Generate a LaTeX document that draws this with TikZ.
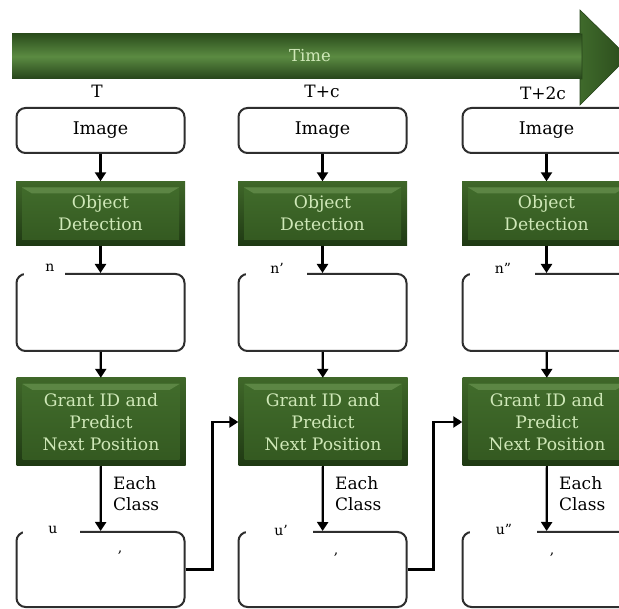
\documentclass[tikz,border=0pt]{standalone}
\usepackage{fontspec}
\setmainfont{DejaVu Serif}
\usetikzlibrary{arrows.meta}
\definecolor{gdark}{HTML}{1F3913}
\definecolor{gouter}{HTML}{3F6729}
\definecolor{ginTop}{HTML}{426D2C}
\definecolor{ginBot}{HTML}{335820}
\definecolor{ghi}{HTML}{78A15E}
\definecolor{gtext}{HTML}{CFE8B8}
\definecolor{bord}{HTML}{2E2E2E}
\definecolor{arTop}{HTML}{2B4D1C}
\definecolor{arMid}{HTML}{5B8B42}
\definecolor{arBot}{HTML}{26441A}
\definecolor{headL}{HTML}{3F6A2B}
\definecolor{headR}{HTML}{2A4A1B}
\tikzset{
  wbox/.style={draw=bord, line width=2pt, rounded corners=9pt, fill=white,
    minimum width=168pt, inner sep=0pt, font=\fontsize{17.5}{20}\selectfont},
  gbox/.style={minimum width=169pt, inner sep=0pt, text=gtext, align=center,
    font=\fontsize{17.2}{22}\selectfont, top color=gouter, bottom color=gdark,
    path picture={
      \shade[top color=ginTop, bottom color=ginBot]
        ([shift={(6pt,-6pt)}]path picture bounding box.north west) rectangle
        ([shift={(-6pt,6pt)}]path picture bounding box.south east);
      \fill[ghi, opacity=0.5]
        ([shift={(6pt,-6pt)}]path picture bounding box.north west) --
        ([shift={(-6pt,-6pt)}]path picture bounding box.north east) --
        ([shift={(-16pt,-12pt)}]path picture bounding box.north east) --
        ([shift={(16pt,-12pt)}]path picture bounding box.north west) -- cycle;
    }},
  arr/.style={line width=2.2pt, draw=black, -{Triangle[width=11pt,length=9pt]}},
  lbl/.style={font=\fontsize{17}{20}\selectfont, inner sep=0pt},
  sml/.style={font=\fontsize{14}{16}\selectfont, inner sep=0pt},
  ecls/.style={font=\fontsize{17}{21}\selectfont, align=left, inner sep=0pt, anchor=west},
  mask/.style={fill=white}
}
\begin{document}
\begin{tikzpicture}[x=1pt,y=-1pt]
\useasboundingbox (0,0) rectangle (619,609);
\clip (0,0) rectangle (619,609);
\fill[white] (0,0) rectangle (619,609);

% time arrow
\shade[top color=arTop, bottom color=arBot, middle color=arMid]
  (12,34) -- (582,34) -- (582,79) -- (12,79) -- cycle;
\shade[left color=headL, right color=headR, draw=arBot, line width=0.6pt]
  (580,10) -- (628,57) -- (580,105) -- (580,79) -- (582,79) -- (582,34) -- (580,34) -- cycle;
\node[text=gtext, font=\fontsize{16.5}{18}\selectfont] (time) at (310,56) {Time};

% time labels
\node[lbl] (t1) at (97,91) {T};
\node[lbl] (t2) at (322,91) {T+c};
\node[lbl] (t3) at (543,93) {T+2c};

% columns
\foreach \i/\cx in {1/100.5, 2/322.5, 3/546.5}{
  \node[wbox, minimum height=45pt] (img\i) at (\cx,130.5) {Image};
  \node[gbox, minimum height=64pt] (od\i) at (\cx,213.5) {Object\\Detection};
  \node[wbox, minimum height=77pt] (nb\i) at (\cx,312.5) {};
  \node[gbox, minimum height=88pt] (gr\i) at (\cx+0.5,422) {Grant ID and\\Predict\\Next Position};
  \node[wbox, minimum height=75pt] (ub\i) at (\cx,569.5) {};
  \draw[arr] (img\i) -- (od\i);
  \draw[arr] (od\i) -- (nb\i);
  \draw[arr] (nb\i) -- (gr\i);
  \draw[arr] (gr\i) -- (ub\i);
  \node[ecls] (ec\i) at (\cx+12.5,493.5) {Each\\Class};
}

% label masks
\fill[mask] (24,254) rectangle (65,281);
\fill[mask] (246,254) rectangle (307,281);
\fill[mask] (470,254) rectangle (535,281);
\fill[mask] (23,510) rectangle (80,539);
\fill[mask] (246,510) rectangle (313,539);
\fill[mask] (470,510) rectangle (537,539);

% labels
\node[sml] (ln1) at (50,268) {n};
\node[sml] (ln2) at (277,268) {n'};
\node[sml] (ln3) at (503,268) {n''};
\node[sml] (lu1) at (53,530) {u};
\node[sml] (lu2) at (281,530) {u'};
\node[sml] (lu3) at (504,529) {u''};
\node[sml] (cm1) at (120,553) {,};
\node[sml] (cm2) at (336,555) {,};
\node[sml] (cm3) at (552,555) {,};

% cross connectors
\draw[arr] (ub1.east) -- ++(27,0) |- (gr2.west);
\draw[arr] (ub2.east) -- ++(26,0) |- (gr3.west);
\end{tikzpicture}
\end{document}
